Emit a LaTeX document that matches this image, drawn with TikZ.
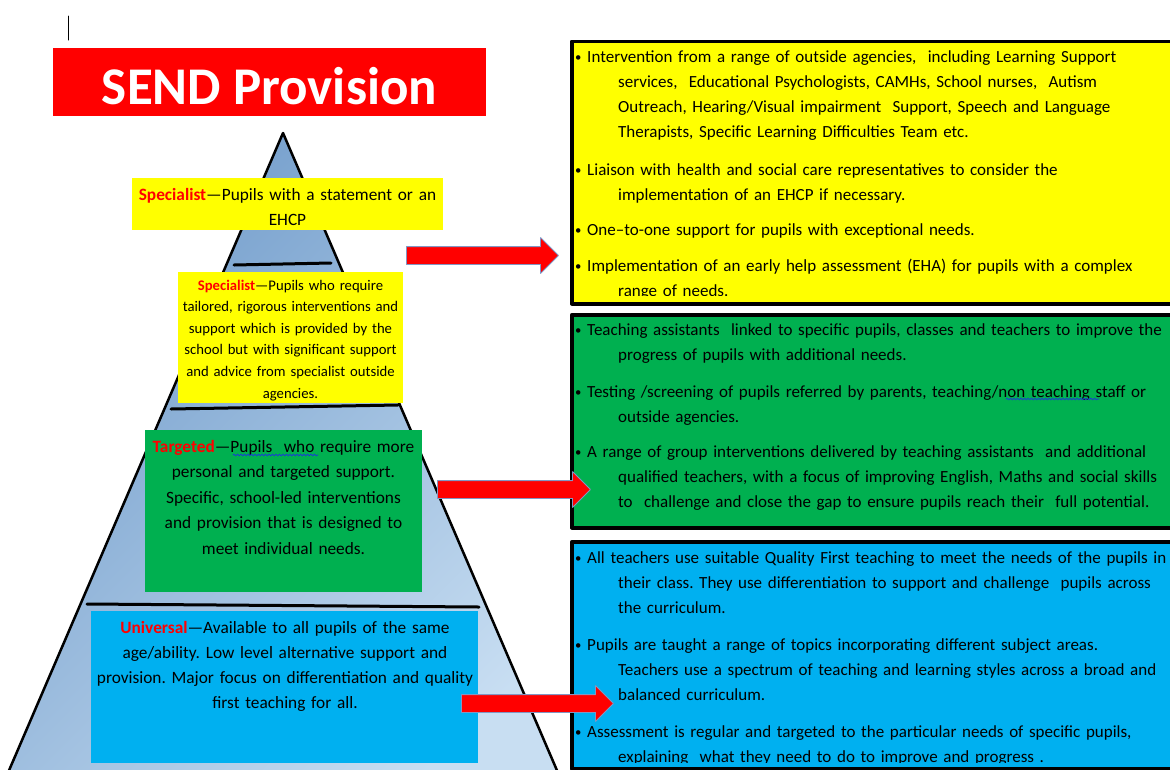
\documentclass[tikz,border=0pt]{standalone}
\usepackage{fontspec}
\setmainfont{Carlito}
\usepackage{tikz}
\usetikzlibrary{arrows.meta}
\usetikzlibrary{positioning}
\usetikzlibrary{shapes.arrows}
\usetikzlibrary{decorations.pathmorphing}
\definecolor{sendred}{RGB}{255,0,0}
\definecolor{tieryellow}{RGB}{255,255,0}
\definecolor{tiergreen}{RGB}{0,176,80}
\definecolor{tierblue}{RGB}{0,176,240}
\definecolor{pyrdark}{RGB}{112,155,202}
\definecolor{pyrlight}{RGB}{200,222,242}
\definecolor{arrowedge}{RGB}{130,150,195}
\definecolor{squiggle}{RGB}{30,50,220}
\newcommand{\tiername}[1]{\textcolor{sendred}{\textbf{#1}}}
\newcommand{\ind}{\hspace*{43pt}}
\newcommand{\bul}{\raisebox{1pt}{\scalebox{0.75}{\textbullet}}}
\frenchspacing

\begin{document}
\begin{tikzpicture}[line cap=round,line join=round, x=1pt,y=-1pt,
  tierbox/.style={rectangle, inner sep=0, anchor=north west},
  tiertext/.style={anchor=base, inner sep=0, text width=#1, align=center},
  listbox/.style={rectangle, inner sep=0, anchor=north west, draw=black, line width=3.5pt, minimum width=620},
  bullets/.style={anchor=base west, inner sep=0, text width=700, align=left, font=\fontsize{17}{25.3}\selectfont},
  blockarrow/.style={single arrow, fill=sendred, draw=arrowedge, line width=0.8pt, minimum width=35, single arrow head extend=9, inner xsep=0, inner ysep=8.5pt},
  layerline/.style={line width=3pt},
  spell/.style={squiggle, line width=0.7pt, decorate, decoration={snake, amplitude=0.9pt, segment length=3.5pt}}]
\clip (0,0) rectangle (1170,769);
% cursor mark
\draw [line width=1pt] (68,16) -- (68,40);
% title
\node [tierbox, fill=sendred, minimum width=433, minimum height=68] (title) at (53,48) {};
\node [anchor=base, inner sep=0, text=white, font=\fontsize{53}{60}\selectfont\bfseries] (titletxt) at (269.5,104) {SEND Provision};
% pyramid
\coordinate (apex) at (283,133);
\coordinate (baseL) at (-8,810);
\coordinate (baseR) at (574,810);
\fill [left color=pyrdark, right color=pyrlight, shading angle=45] (apex) -- (baseL) -- (baseR) -- cycle;
\draw [line width=2.5pt] (baseL) -- (apex) -- (baseR);
\draw [layerline] (234,265) -- (331,263);
\draw [layerline] (171,409) -- (398,405);
\draw [layerline] (87,604) -- (479,607);
% tiers
\node [tierbox, fill=tieryellow, minimum width=311, minimum height=52] (spec1) at (132,178) {};
\node [tiertext=320, font=\fontsize{17.3}{25}\selectfont] (spec1txt) at (287.5,200) {\tiername{Specialist}—Pupils with a statement or an\\EHCP};
\node [tierbox, fill=tieryellow, minimum width=225, minimum height=131] (spec2) at (178,272) {};
\node [tiertext=240, font=\fontsize{14.7}{21.6}\selectfont] (spec2txt) at (290.5,290) {\tiername{Specialist}—Pupils who require\\tailored, rigorous interventions and\\support which is provided by the\\school but with significant support\\and advice from specialist outside\\agencies.};
\node [tierbox, fill=tiergreen, minimum width=277, minimum height=162] (targ) at (145,430) {};
\node [tiertext=290, font=\fontsize{17.3}{25.5}\selectfont] (targtxt) at (283.5,452) {\tiername{Targeted}—Pupils\ \ who require more\\personal and targeted support.\\Specific, school-led interventions\\and provision that is designed to\\meet individual needs.};
\node [tierbox, fill=tierblue, minimum width=387, minimum height=152] (univ) at (91,611) {};
\node [tiertext=400, font=\fontsize{17.3}{25}\selectfont] (univtxt) at (285,633) {\tiername{Universal}—Available to all pupils of the same\\age/ability. Low level alternative support and\\provision. Major focus on differentiation and quality\\first teaching for all.};
\draw [spell] (233,455) -- (318,455);
% provision lists
\node [listbox, fill=tieryellow, minimum height=262.5] (listspec) at (570,39.5) {};
\begin{scope}
\clip (572,41.5) rectangle (1172,295);
\node [bullets] (ls1) at (575,62) {\bul\ Intervention from a range of outside agencies,\ \ including Learning Support\\\ind services,\ \ Educational Psychologists, CAMHs, School nurses,\ \ Autism\\\ind Outreach, Hearing/Visual impairment\ \ Support, Speech and Language\\\ind Therapists, Specific Learning Difficulties Team etc.};
\node [bullets] (ls2) at (575,175) {\bul\ Liaison with health and social care representatives to consider the\\\ind implementation of an EHCP if necessary.};
\node [bullets] (ls3) at (575,235) {\bul\ One–to-one support for pupils with exceptional needs.};
\node [bullets] (ls4) at (575,271) {\bul\ Implementation of an early help assessment (EHA) for pupils with a complex\\\ind range of needs.};
\end{scope}
\node [listbox, fill=tiergreen, minimum height=213] (listtarg) at (570,313) {};
\begin{scope}
\clip (572,315) rectangle (1172,523);
\node [bullets] (lt1) at (575,335) {\bul\ Teaching assistants\ \ linked to specific pupils, classes and teachers to improve the\\\ind progress of pupils with additional needs.};
\node [bullets] (lt2) at (575,397) {\bul\ Testing /screening of pupils referred by parents, teaching/non teaching staff or\\\ind outside agencies.};
\node [bullets] (lt3) at (575,457) {\bul\ A range of group interventions delivered by teaching assistants\ \ and additional\\\ind qualified teachers, with a focus of improving English, Maths and social skills\\\ind to\ \ challenge and close the gap to ensure pupils reach their\ \ full potential.};
\end{scope}
\draw [spell] (1006,399) -- (1099,399);
\node [listbox, fill=tierblue, minimum height=227] (listuniv) at (570,540) {};
\begin{scope}
\clip (572,542) rectangle (1172,762);
\node [bullets] (lu1) at (575,563) {\bul\ All teachers use suitable Quality First teaching to meet the needs of the pupils in\\\ind their class. They use differentiation to support and challenge\ \ pupils across\\\ind the curriculum.};
\node [bullets] (lu2) at (575,650) {\bul\ Pupils are taught a range of topics incorporating different subject areas.\\\ind Teachers use a spectrum of teaching and learning styles across a broad and\\\ind balanced curriculum.};
\node [bullets] (lu3) at (575,737) {\bul\ Assessment is regular and targeted to the particular needs of specific pupils,\\\ind explaining\ \ what they need to do to improve and progress .};
\end{scope}
% arrows
\node [blockarrow, minimum height=152] (arr1) at (478,255.5) {};
\node [blockarrow, minimum height=153] (arr2) at (509.5,489.5) {};
\node [blockarrow, minimum height=152] (arr3) at (533,703.5) {};
\end{tikzpicture}
\end{document}
